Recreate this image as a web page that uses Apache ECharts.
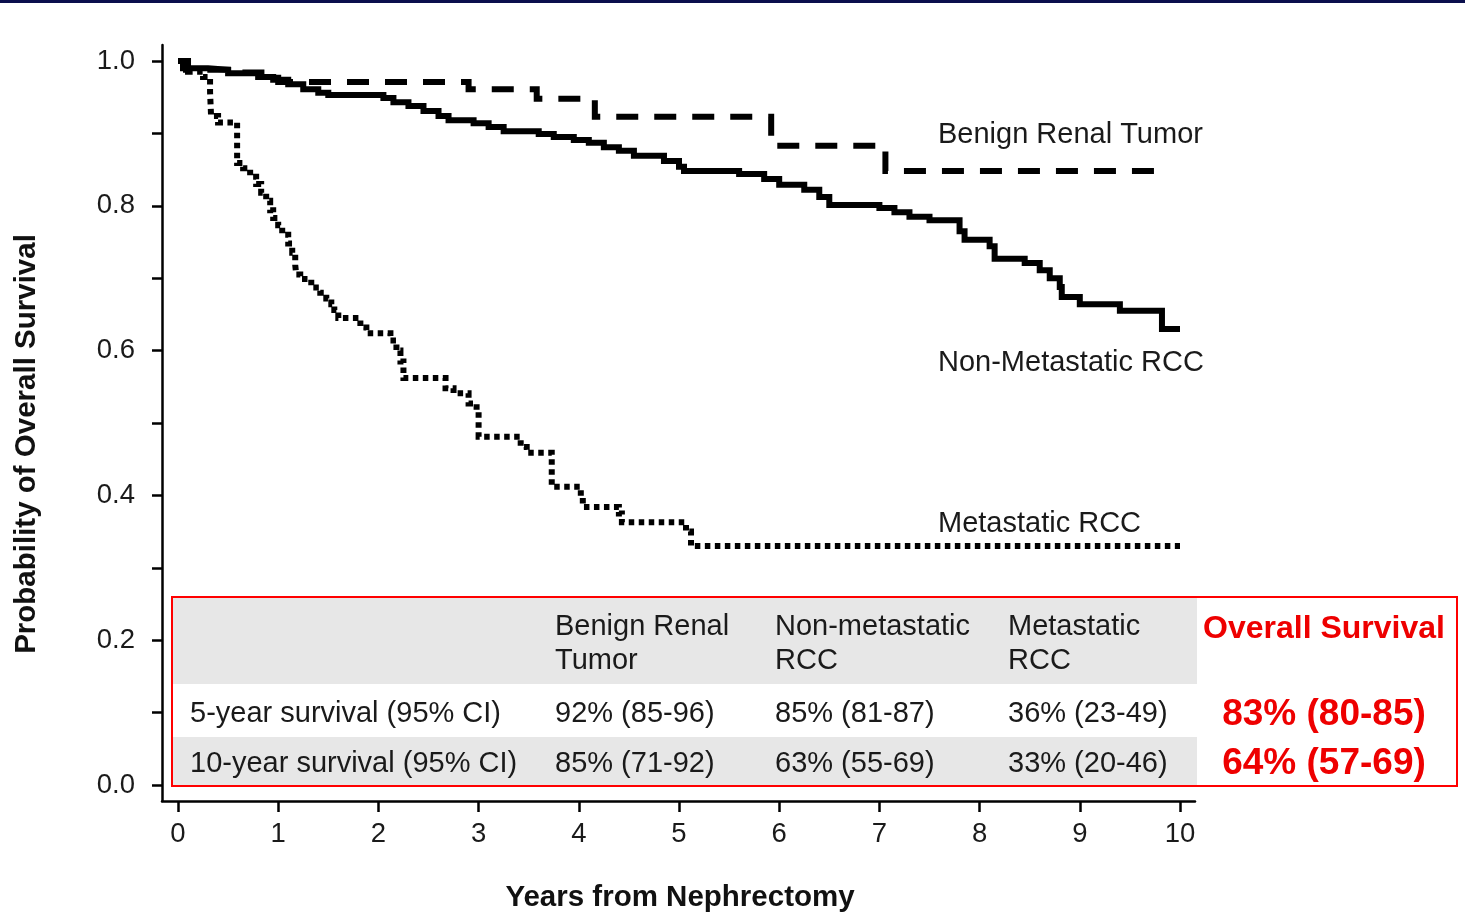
<!DOCTYPE html>
<html>
<head>
<meta charset="utf-8">
<title>Overall Survival after Nephrectomy</title>
<script src="https://cdn.jsdelivr.net/npm/echarts@6/dist/echarts.min.js"></script>
<style>
  html, body { margin: 0; padding: 0; background: #ffffff; }
  #chart { width: 1465px; height: 914px; }
</style>
</head>
<body>
<div id="chart"></div>
<script>
// ---- Axis ticks ----
const xTicks = [0, 1, 2, 3, 4, 5, 6, 7, 8, 9, 10];
const yTicks = [0.0, 0.2, 0.4, 0.6, 0.8, 1.0];

// ---- Kaplan–Meier curves: event time (years) and survival after that step ----
const benignTime = [0, 0.08, 0.5, 1.0, 2.9, 3.58, 4.16, 5.92, 7.06, 9.84];
const benignSurv = [1.0, 0.988, 0.984, 0.971, 0.961, 0.948, 0.923, 0.883, 0.848, 0.848];

const nonMetTime = [0, 0.05, 0.3, 0.5, 0.8, 0.95, 1.1, 1.25, 1.4, 1.5,
  2.05, 2.15, 2.3, 2.45, 2.6, 2.7, 2.95, 3.1, 3.25, 3.6, 3.75, 3.95,
  4.1, 4.25, 4.4, 4.55, 4.85, 5.0, 5.05, 5.6, 5.85, 6.0, 6.25, 6.4, 6.5,
  7.0, 7.15, 7.3, 7.5, 7.8, 7.85, 8.1, 8.15, 8.45, 8.6, 8.7, 8.8, 8.82,
  9.0, 9.4, 9.82, 10.0];
const nonMetSurv = [1.0, 0.99, 0.988, 0.983, 0.978, 0.974, 0.968, 0.961, 0.956, 0.953,
  0.949, 0.943, 0.938, 0.931, 0.924, 0.918, 0.914, 0.909, 0.903, 0.899, 0.895, 0.891,
  0.887, 0.881, 0.876, 0.869, 0.862, 0.854, 0.848, 0.844, 0.837, 0.829, 0.822, 0.812, 0.801,
  0.797, 0.791, 0.785, 0.780, 0.765, 0.753, 0.744, 0.727, 0.721, 0.711, 0.700, 0.688, 0.674,
  0.664, 0.655, 0.630, 0.630];

const metTime = [0, 0.1, 0.25, 0.32, 0.33, 0.4, 0.59, 0.65, 0.72, 0.78, 0.83, 0.88, 0.92, 0.95,
  1.0, 1.04, 1.1, 1.14, 1.17, 1.18, 1.22, 1.33, 1.42, 1.48, 1.53, 1.56, 1.6, 1.82, 1.88,
  2.12, 2.18, 2.22, 2.25, 2.67, 2.75, 2.9, 2.98, 3.0, 3.42, 3.48, 3.73,
  4.02, 4.04, 4.4, 4.43, 5.07, 5.12, 10.0];
const metSurv = [1.0, 0.985, 0.978, 0.957, 0.924, 0.915, 0.859, 0.852, 0.84, 0.83, 0.818, 0.807, 0.794, 0.783,
  0.773, 0.76, 0.748, 0.735, 0.718, 0.705, 0.699, 0.687, 0.68, 0.672, 0.664, 0.656, 0.645, 0.632, 0.624,
  0.614, 0.6, 0.585, 0.562, 0.548, 0.541, 0.527, 0.516, 0.481, 0.467, 0.459, 0.412,
  0.398, 0.384, 0.375, 0.363, 0.35, 0.33, 0.33];

// ---- Curve names ----
const curveNames = ['Benign Renal Tumor', 'Non-Metastatic RCC', 'Metastatic RCC'];

// ---- Survival summary table ----
const tableHeaders = ['Benign Renal\nTumor', 'Non-metastatic\nRCC', 'Metastatic\nRCC'];
const rowLabels = ['5-year survival (95% CI)', '10-year survival (95% CI)'];
const fiveYear = ['92% (85-96)', '85% (81-87)', '36% (23-49)'];
const tenYear = ['85% (71-92)', '63% (55-69)', '33% (20-46)'];
const overallTitle = 'Overall Survival';
const overallValues = ['83% (80-85)', '64% (57-69)'];

const xTitle = 'Years from Nephrectomy';
const yTitle = 'Probability of Overall Survival';

// ---------------------------------------------------------------
const FONT = '"Liberation Sans", Arial, Helvetica, sans-serif';
const INK = '#1a1a1a';

function zip(t, s) { return t.map((v, i) => [v, s[i]]); }

const chart = echarts.init(document.getElementById('chart'), null, { renderer: 'canvas' });

const stepSeries = (name, data, lineStyle) => ({
  name,
  type: 'line',
  xAxisIndex: 1,
  yAxisIndex: 1,
  step: 'end',
  showSymbol: false,
  symbol: 'none',
  silent: true,
  data,
  lineStyle: Object.assign({ color: '#000', join: 'miter' }, lineStyle),
  z: 5
});

chart.setOption({
  animation: false,
  backgroundColor: '#ffffff',
  grid: [
    // frame lines (slightly longer than the data range)
    { left: 162, top: 45, width: 1033, height: 756, containLabel: false },
    // data area
    { left: 178, top: 61, width: 1002, height: 724, containLabel: false }
  ],
  xAxis: [
    {
      gridIndex: 0, type: 'value', min: 0, max: 1,
      axisLine: { show: true, onZero: false, lineStyle: { color: '#000', width: 2.5 } },
      axisTick: { show: false }, axisLabel: { show: false }, splitLine: { show: false }
    },
    {
      gridIndex: 1, type: 'value', min: 0, max: 10, interval: 1, offset: 16,
      axisLine: { show: false, onZero: false },
      axisTick: { show: true, length: 11, lineStyle: { color: '#000', width: 2.5 } },
      axisLabel: {
        fontSize: 27.5, fontFamily: FONT, color: INK, margin: 19,
        formatter: v => (xTicks.indexOf(v) >= 0 ? String(v) : '')
      },
      splitLine: { show: false }
    }
  ],
  yAxis: [
    {
      gridIndex: 0, type: 'value', min: 0, max: 1,
      axisLine: { show: true, onZero: false, lineStyle: { color: '#000', width: 2.5 } },
      axisTick: { show: false }, axisLabel: { show: false }, splitLine: { show: false }
    },
    {
      gridIndex: 1, type: 'value', min: 0, max: 1, interval: 0.1, offset: 16,
      axisLine: { show: false, onZero: false },
      axisTick: { show: true, length: 10, lineStyle: { color: '#000', width: 2.5 } },
      axisLabel: {
        fontSize: 27.5, fontFamily: FONT, color: INK, margin: 27,
        padding: [7, 0, 0, 0],
        formatter: v => {
          const hit = yTicks.find(t => Math.abs(t - v) < 1e-6);
          return hit === undefined ? '' : hit.toFixed(1);
        }
      },
      splitLine: { show: false }
    }
  ],
  series: [
    stepSeries(curveNames[0], zip(benignTime, benignSurv), { width: 6, type: [22, 16], cap: 'butt' }),
    stepSeries(curveNames[1], zip(nonMetTime, nonMetSurv), { width: 6, type: 'solid' }),
    stepSeries(curveNames[2], zip(metTime, metSurv), { width: 6, type: [5.5, 4.5], cap: 'butt' })
  ]
});

// ---- annotation layer ----
function txt(text, x, y, opts) {
  const o = opts || {};
  return {
    type: 'text',
    x: x, y: y,
    rotation: o.rotation || 0,
    z: 20,
    silent: true,
    style: {
      text: text,
      fill: o.fill || INK,
      font: (o.weight || 'normal') + ' ' + (o.size || 29) + 'px ' + FONT,
      align: o.align || 'left',
      verticalAlign: 'middle',
      textAlign: o.align || 'left',
      textVerticalAlign: 'middle',
      lineHeight: o.lineHeight || undefined
    }
  };
}

// curve labels anchored in data coordinates
const labelAnchors = [[7.585, 0.898], [7.585, 0.583], [7.585, 0.361]];
const curveLabelEls = curveNames.map((name, i) => {
  const p = chart.convertToPixel({ gridIndex: 1 }, labelAnchors[i]);
  return txt(name, p[0], p[1], { size: 29 });
});

// summary table
const T = { left: 172, top: 597, right: 1457, bottom: 786, greyRight: 1197, headBottom: 684, row2Top: 737 };
const colX = [555, 775, 1008];
const headerY = 644, row1Y = 714, row2Y = 764;
const overallX = 1324;
const RED = '#ee0000';

const tableEls = [
  { type: 'rect', z: 10, silent: true,
    shape: { x: T.left, y: T.top, width: T.greyRight - T.left, height: T.headBottom - T.top },
    style: { fill: '#e7e7e7' } },
  { type: 'rect', z: 10, silent: true,
    shape: { x: T.left, y: T.row2Top, width: T.greyRight - T.left, height: T.bottom - T.row2Top },
    style: { fill: '#e7e7e7' } },
  { type: 'rect', z: 15, silent: true,
    shape: { x: T.left, y: T.top, width: T.right - T.left, height: T.bottom - T.top },
    style: { fill: 'none', stroke: '#ff0000', lineWidth: 2 } },
  txt(rowLabels[0], 190, row1Y),
  txt(rowLabels[1], 190, row2Y),
  txt(overallTitle, overallX, 629, { fill: RED, weight: 'bold', size: 32, align: 'center' }),
  txt(overallValues[0], overallX, row1Y + 1, { fill: RED, weight: 'bold', size: 37, align: 'center' }),
  txt(overallValues[1], overallX, row2Y, { fill: RED, weight: 'bold', size: 37, align: 'center' })
];
tableHeaders.forEach((h, i) => tableEls.push(txt(h, colX[i], headerY, { lineHeight: 34 })));
fiveYear.forEach((v, i) => tableEls.push(txt(v, colX[i], row1Y)));
tenYear.forEach((v, i) => tableEls.push(txt(v, colX[i], row2Y)));

chart.setOption({
  graphic: [
    { type: 'rect', z: 30, silent: true, shape: { x: 0, y: 0, width: 1465, height: 3 }, style: { fill: '#0b0f4d' } },
    txt(yTitle, 27, 444, { weight: 'bold', size: 29.5, align: 'center', rotation: Math.PI / 2, fill: '#111' }),
    txt(xTitle, 680, 898, { weight: 'bold', size: 29.5, align: 'center', fill: '#111' })
  ].concat(curveLabelEls, tableEls)
});
</script>
</body>
</html>
